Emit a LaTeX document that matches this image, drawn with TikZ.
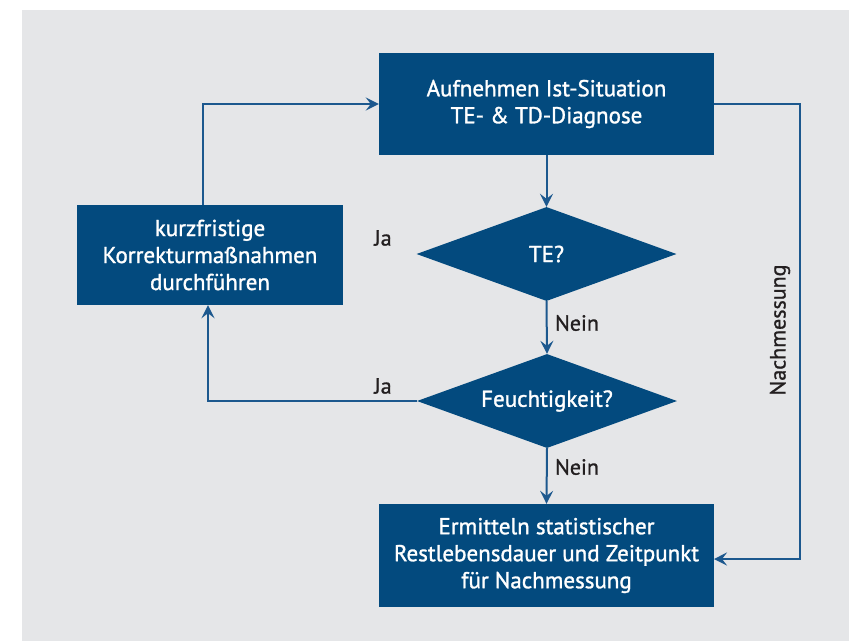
\documentclass[tikz,border=0pt]{standalone}
\usepackage{fontspec}
\setmainfont{PT Sans}
\newfontfamily\boxfont{PT Sans}[FakeBold=1.3]
\newfontfamily\lblfont{PT Sans}[FakeBold=1]
\usetikzlibrary{shapes.geometric,arrows.meta}
\definecolor{boxblue}{RGB}{3,74,126}
\definecolor{lineblue}{RGB}{28,88,142}
\definecolor{panelgray}{RGB}{229,230,232}
\definecolor{labelgray}{RGB}{35,31,32}
\begin{document}
\begin{tikzpicture}[x=1pt,y=-1pt,
  proc/.style={rectangle, fill=boxblue, text=white, align=center, inner sep=0pt,
    font=\boxfont\fontsize{23}{27}\selectfont},
  dec/.style={diamond, fill=boxblue, inner sep=0pt,
    minimum width=260pt, minimum height=94pt},
  dectext/.style={text=white, inner sep=0pt, font=\boxfont\fontsize{23}{27}\selectfont},
  conn/.style={draw=lineblue, line width=2pt,
    -{Stealth[length=13pt,width=13pt,inset=5pt]}},
  lbl/.style={text=labelgray, inner sep=0pt, font=\lblfont\fontsize{22}{26}\selectfont}]
\useasboundingbox (0,0) rectangle (849,641);
\fill[panelgray] (22,10) rectangle (849,641);

\node[proc, minimum width=335pt, minimum height=102pt] (b1) at (546.5,104)
  {Aufnehmen Ist-Situation\\TE- \& TD-Diagnose};
\node[proc, minimum width=266pt, minimum height=100pt] (b2) at (210,255)
  {kurzfristige\\Korrekturmaßnahmen\\durchführen};
\node[proc, minimum width=335pt, minimum height=103pt] (b3) at (546.5,555.5)
  {Ermitteln statistischer\\Restlebensdauer und Zeitpunkt\\für Nachmessung};
\node[dec] (te) at (546.5,254) {};
\node[dectext] (tet) at (te) {TE?};
\node[dec] (fe) at (547,401) {};
\node[dectext] (fet) at (fe) {Feuchtigkeit?};

\coordinate (cl) at (208,0);
\coordinate (cu) at (203,0);
\coordinate (cr) at (800,330);
\coordinate (b3in) at (714,559);

\draw[conn] (b1.south) -- (te.north);
\draw[conn] (te.south) -- (fe.north);
\draw[conn] (fe.south) -- (b3.north);
\draw[conn] (fe.west) -| (b2.south -| cl);
\draw[conn] (b2.north -| cu) |- (b1.west);
\draw[conn] (b1.east) -| (cr) |- (b3in);

\node[lbl] (ja1) at (383,238) {Ja};
\node[lbl] (ja2) at (383,386) {Ja};
\node[lbl] (nein1) at (577,323) {Nein};
\node[lbl] (nein2) at (577,467) {Nein};
\node[lbl, rotate=90] (nach) at (780,330) {Nachmessung};
\end{tikzpicture}
\end{document}
